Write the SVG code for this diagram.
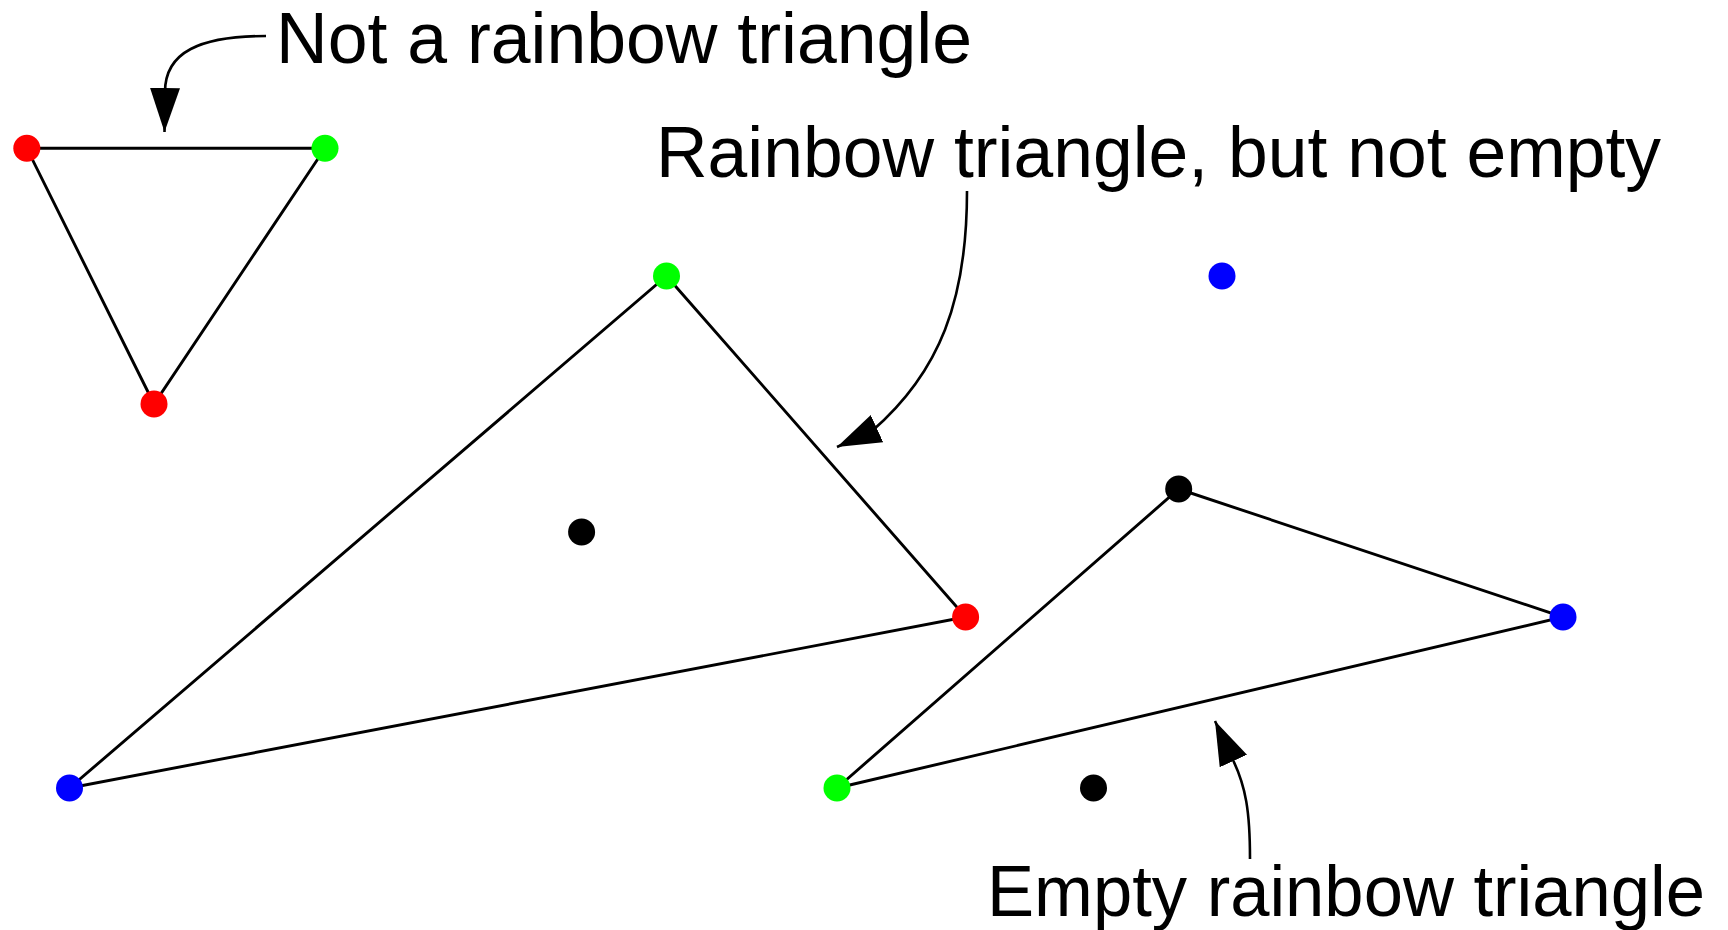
<svg xmlns="http://www.w3.org/2000/svg" width="1728" height="930" viewBox="0 0 1728 930">
<style>
.edge{stroke:#000;stroke-width:2.9;fill:none;stroke-linecap:round}
.arr{stroke:#000;stroke-width:2.6;fill:none}
.lbl{font-family:"Liberation Sans","DejaVu Sans",sans-serif;font-size:72px;fill:#000}
.r{fill:#ff0000}.g{fill:#00ff00}.b{fill:#0000ff}.k{fill:#000}
</style>
<defs>
<marker id="ah" markerUnits="userSpaceOnUse" markerWidth="46" markerHeight="32" refX="44" refY="15" orient="auto">
<path d="M0,0 L44,15 L0,30 Z" fill="#000"/>
</marker>
</defs>
<rect width="1728" height="930" fill="#fff"/>
<g id="edges">
<path class="edge" d="M26.8,148.3 L325,148.3 L154,404 Z"/>
<path class="edge" d="M666.5,276 L965.6,617 L69.5,788 Z"/>
<path class="edge" d="M1178.7,489 L1563,617 L837,788 Z"/>
</g>
<g id="connectors">
<path class="arr" d="M266,36 C200,36 165,52 165,92 L164.5,132" marker-end="url(#ah)"/>
<path class="arr" d="M967,191 C967,300 940,372 872,431 L837,447" marker-end="url(#ah)"/>
<path class="arr" d="M1250,859 C1250,812 1246,786 1232,758 L1215,721" marker-end="url(#ah)"/>
</g>
<g id="tri1">
<circle class="r" cx="26.8" cy="148.3" r="13.5"/>
<circle class="g" cx="325" cy="148.3" r="13.5"/>
<circle class="r" cx="154" cy="404" r="13.5"/>
</g>
<g id="tri2">
<circle class="g" cx="666.5" cy="276" r="13.5"/>
<circle class="r" cx="965.6" cy="617" r="13.5"/>
<circle class="b" cx="69.5" cy="788" r="13.5"/>
<circle class="k" cx="581.6" cy="532" r="13.5"/>
</g>
<g id="tri3">
<circle class="k" cx="1178.7" cy="489" r="13.5"/>
<circle class="b" cx="1563" cy="617" r="13.5"/>
<circle class="g" cx="837" cy="788" r="13.5"/>
<circle class="b" cx="1222" cy="276" r="13.5"/>
<circle class="k" cx="1093.5" cy="788" r="13.5"/>
</g>
<g id="label1"><text class="lbl" x="276" y="63" textLength="696" lengthAdjust="spacingAndGlyphs">Not a rainbow triangle</text></g>
<g id="label2"><text class="lbl" x="656" y="177" textLength="1005" lengthAdjust="spacingAndGlyphs">Rainbow triangle, but not empty</text></g>
<g id="label3"><text class="lbl" x="987" y="916" textLength="718" lengthAdjust="spacingAndGlyphs">Empty rainbow triangle</text></g>
</svg>
